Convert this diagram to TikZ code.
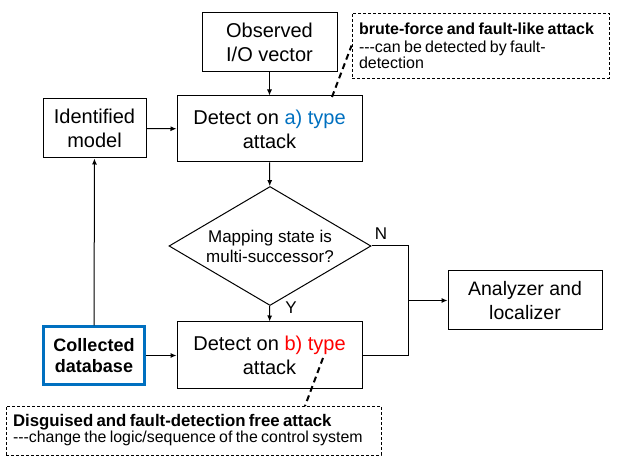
\documentclass[tikz,border=0pt]{standalone}
\usepackage{fontspec}
\setmainfont{Liberation Sans}
\usetikzlibrary{shapes.geometric,arrows.meta}
\definecolor{typeblue}{RGB}{0,112,192}
\definecolor{typered}{RGB}{255,0,0}

\begin{document}
\begin{tikzpicture}[x=1pt,y=-1pt,>={Latex[length=6pt,width=5pt]},
    box/.style={draw,line width=1pt,align=center,inner sep=0pt,
      font=\fontsize{20}{24}\selectfont},
    dbbox/.style={box,draw=typeblue,line width=2.2pt,
      font=\fontsize{18}{21}\selectfont\bfseries},
    decision/.style={draw,line width=1pt,diamond,aspect=1.7,inner sep=0pt,
      align=center,font=\fontsize{17}{20}\selectfont},
    notebox/.style={draw,line width=0.8pt,dash pattern=on 3pt off 2pt,
      align=left,inner xsep=7pt,inner ysep=0pt},
    callout/.style={line width=2pt,dash pattern=on 6pt off 4pt},
    flow/.style={->,line width=1pt},
    answer/.style={inner sep=0pt,font=\fontsize{17}{20}\selectfont}]
    \useasboundingbox (0,0) rectangle (619,462);
    %%%%%%%%%%%%%%%%%%%%%%%%%%%%%%%%%%
    \node[box,minimum width=135pt,minimum height=59pt] (obs) at (269.5,42.5)
      {Observed\\I/O vector};
    \node[box,minimum width=185pt,minimum height=66pt] (deta) at (269.5,129)
      {Detect on \textcolor{typeblue}{a) type}\\attack};
    \node[box,minimum width=103pt,minimum height=59pt] (ident) at (94.5,128.5)
      {Identified\\model};
    \node[decision,minimum width=202pt,minimum height=119pt] (diam) at (270,246)
      {Mapping state is\\multi-successor?};
    \node[box,minimum width=185pt,minimum height=67pt] (detb) at (269.5,355.5)
      {Detect on \textcolor{typered}{b) type}\\attack};
    \node[dbbox,minimum width=101pt,minimum height=58pt] (coll) at (94,355.5)
      {Collected\\database};
    \node[box,minimum width=154pt,minimum height=59pt,
      font=\fontsize{19.5}{24}\selectfont] (anal) at (525,300.5)
      {Analyzer and\\localizer};
    \node[answer] (ylab) at (291,308) {Y};
    \node[answer] (nlab) at (381,233.5) {N};
    %%%%%%%%%%%%%%%%%%%%%%%%%%%%%%%%%%
    \node[notebox,text width=243pt,minimum height=65pt] (note1) at (480.5,45.5)
      {\fontsize{16}{18.5}\selectfont\textbf{brute-force and fault-like attack}\\
       -{}-{}-can be detected by fault-\\detection};
    \node[notebox,text width=361pt,minimum height=49pt] (note2) at (193.5,430.5)
      {\fontsize{16.8}{21}\selectfont\textbf{Disguised and fault-detection free attack}\\
       \fontsize{15.9}{21}\selectfont-{}-{}-change the logic/sequence of the control system};
    %%%%%%%%%%%%%%%%%%%%%%%%%%%%%%%%%%
    \draw[flow] (obs) -- (deta); % I/O
    \draw[flow] (ident) -- (deta); % model
    \draw[flow] (deta) -- (diam);
    \draw[flow] (diam) -- (detb); % Y
    \draw[flow] (coll) -- (detb);
    \draw[flow] (coll) -- (ident);
    \draw[line width=1pt] (diam.east) -- ++(37,0) coordinate (join) |- (detb.east); % N
    \draw[flow] (join |- anal.west) -- (anal.west);
    %%%%%%%%%%%%%%%%%%%%%%%%%%%%%%%%%%%
    \coordinate (tipa) at (332,97);
    \coordinate (tipb) at (323,358);
    \coordinate (endb) at (305,406);
    \draw[callout] (tipa) -- (note1.west);
    \draw[callout] (tipb) -- (endb);
\end{tikzpicture}
\end{document}
